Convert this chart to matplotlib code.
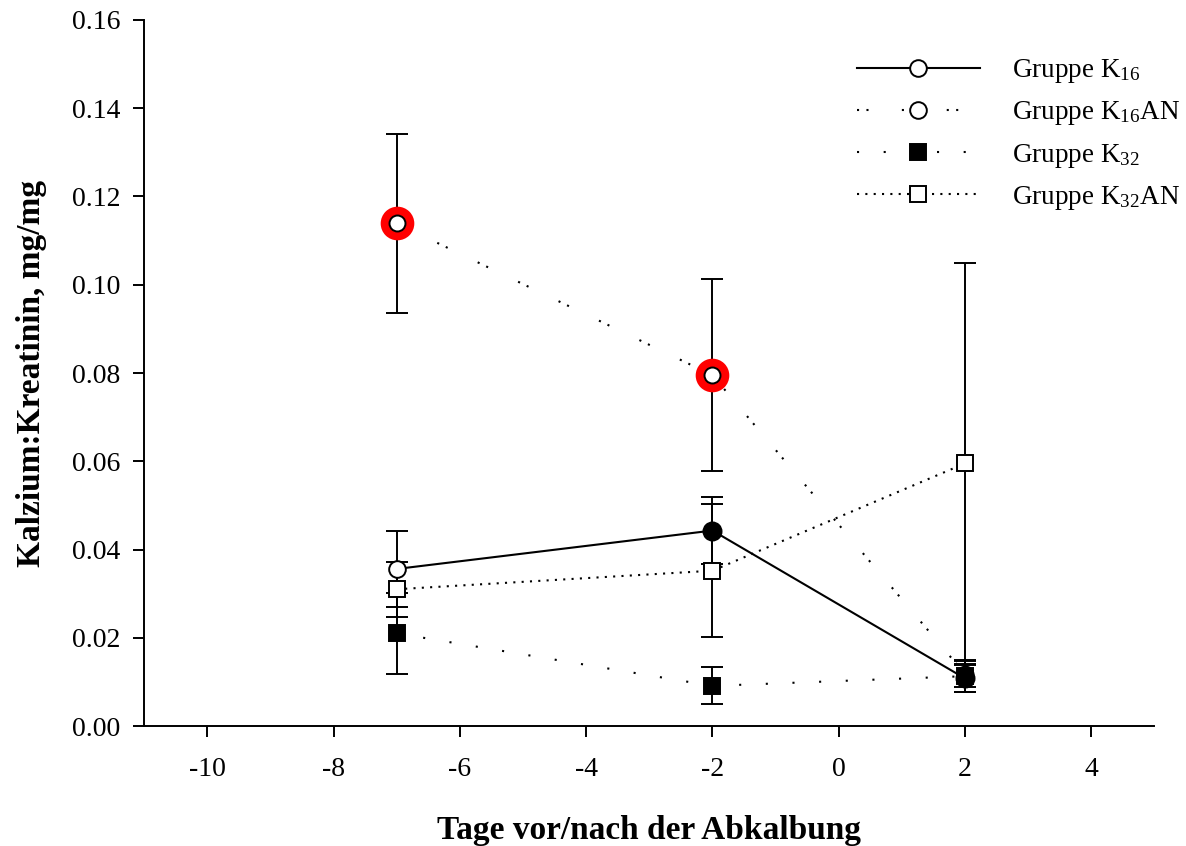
import matplotlib
matplotlib.use("Agg")
import matplotlib.pyplot as plt
from matplotlib.lines import Line2D

plt.rcParams['font.family'] = ['Liberation Serif', 'DejaVu Serif']
plt.rcParams['mathtext.fontset'] = 'custom'
plt.rcParams['mathtext.rm'] = 'Liberation Serif'
plt.rcParams['mathtext.it'] = 'Liberation Serif:italic'
plt.rcParams['mathtext.bf'] = 'Liberation Serif:bold'
plt.rcParams['lines.scale_dashes'] = False

# ---------------- data ----------------
days = [-7, -2, 2]
k16 = [0.0356, 0.0443, 0.0108]
k16_err = [0.0086, 0.0075, 0.0030]
k16_face = ['white', 'black', 'black']
k16an = [0.1139, 0.0795, 0.0118]
k16an_err = [0.0202, 0.0217, 0.0030]
k32 = [0.0210, 0.0091, 0.0113]
k32_err = [0.0092, 0.0042, 0.0037]
k32an = [0.0310, 0.0352, 0.0595]
k32an_err = [0.0062, 0.0151, 0.0455]
highlight_idx = [0, 1]   # highlighted K16AN points

labels = ['Gruppe K$_{16}$', 'Gruppe K$_{16}$AN', 'Gruppe K$_{32}$', 'Gruppe K$_{32}$AN']
xticks = [-10, -8, -6, -4, -2, 0, 2, 4]
yticks = [0.00, 0.02, 0.04, 0.06, 0.08, 0.10, 0.12, 0.14, 0.16]

# ---------------- styles ----------------
lw = 1.5
dash_k16an = (0, (1.5, 5.3, 1.5, 24.0))
dash_k32 = (0, (1.5, 17.7))
dash_k32an = (0, (1.5, 4.5))

fig = plt.figure(figsize=(11.86, 8.46), dpi=100)
ax = fig.add_axes([0.1217, 0.1418, 0.9733 - 0.1217, 0.9764 - 0.1418])

# error bars
for y, e in [(k16, k16_err), (k16an, k16an_err), (k32, k32_err), (k32an, k32an_err)]:
    ax.errorbar(days, y, yerr=e, fmt='none', ecolor='black', elinewidth=1.4,
                capsize=8, capthick=1.4, zorder=2)

# lines
ax.plot(days, k16, color='black', lw=lw, linestyle='-', zorder=3)
ax.plot(days, k16an, color='black', lw=lw, linestyle=dash_k16an, zorder=3)
ax.plot(days, k32, color='black', lw=lw, linestyle=dash_k32, zorder=3)
ax.plot(days, k32an, color='black', lw=lw, linestyle=dash_k32an, zorder=3)

# highlight rings
ax.plot([days[i] for i in highlight_idx], [k16an[i] for i in highlight_idx],
        linestyle='none', marker='o', ms=18, mew=6.2, mec='red', mfc='white', zorder=4)

# markers
ax.plot(days, k16an, linestyle='none', marker='o', ms=11.5, mew=1.4, mec='black', mfc='white', zorder=5)
ax.plot(days, k32an, linestyle='none', marker='s', ms=11.3, mew=1.4, mec='black', mfc='white', zorder=5)
ax.plot(days, k32, linestyle='none', marker='s', ms=11.8, mew=1.4, mec='black', mfc='black', zorder=6)
for x, y, fc in zip(days, k16, k16_face):
    ax.plot([x], [y], linestyle='none', marker='o', ms=12 if fc == 'white' else 13, mew=1.4,
            mec='black', mfc=fc, zorder=6)

ax.set_xlim(-11, 5)
ax.set_ylim(0, 0.16)
ax.set_xticks(xticks)
ax.set_xticklabels([str(t) for t in xticks])
ax.set_yticks(yticks)
ax.set_yticklabels([f'{t:.2f}' for t in yticks])
for s in ['top', 'right']:
    ax.spines[s].set_visible(False)
for s in ['left', 'bottom']:
    ax.spines[s].set_linewidth(1.4)
ax.tick_params(axis='both', direction='out', length=8, width=1.4, labelsize=20)
ax.tick_params(axis='x', pad=14)
ax.tick_params(axis='y', pad=9)

ax.set_xlabel('Tage vor/nach der Abkalbung', fontsize=24, fontweight='bold', labelpad=24)
ax.set_ylabel('Kalzium:Kreatinin, mg/mg', fontsize=24, fontweight='bold', labelpad=18)

handles = [
    Line2D([], [], color='black', lw=lw, linestyle='-', marker='o', ms=12, mew=1.4, mfc='white', mec='black'),
    Line2D([], [], color='black', lw=lw, linestyle=dash_k16an, marker='o', ms=12, mew=1.4, mfc='white', mec='black'),
    Line2D([], [], color='black', lw=lw, linestyle=dash_k32, marker='s', ms=11.5, mew=1.4, mfc='black', mec='black'),
    Line2D([], [], color='black', lw=lw, linestyle=dash_k32an, marker='s', ms=11, mew=1.4, mfc='white', mec='black'),
]
ax.legend(handles, labels, loc='upper left', bbox_to_anchor=(0.7056, 0.947), frameon=False,
          fontsize=19.5, handlelength=4.54, handletextpad=1.18, labelspacing=0.52, borderpad=0,
          borderaxespad=0, numpoints=1)

fig.savefig('out.png', dpi=100)
